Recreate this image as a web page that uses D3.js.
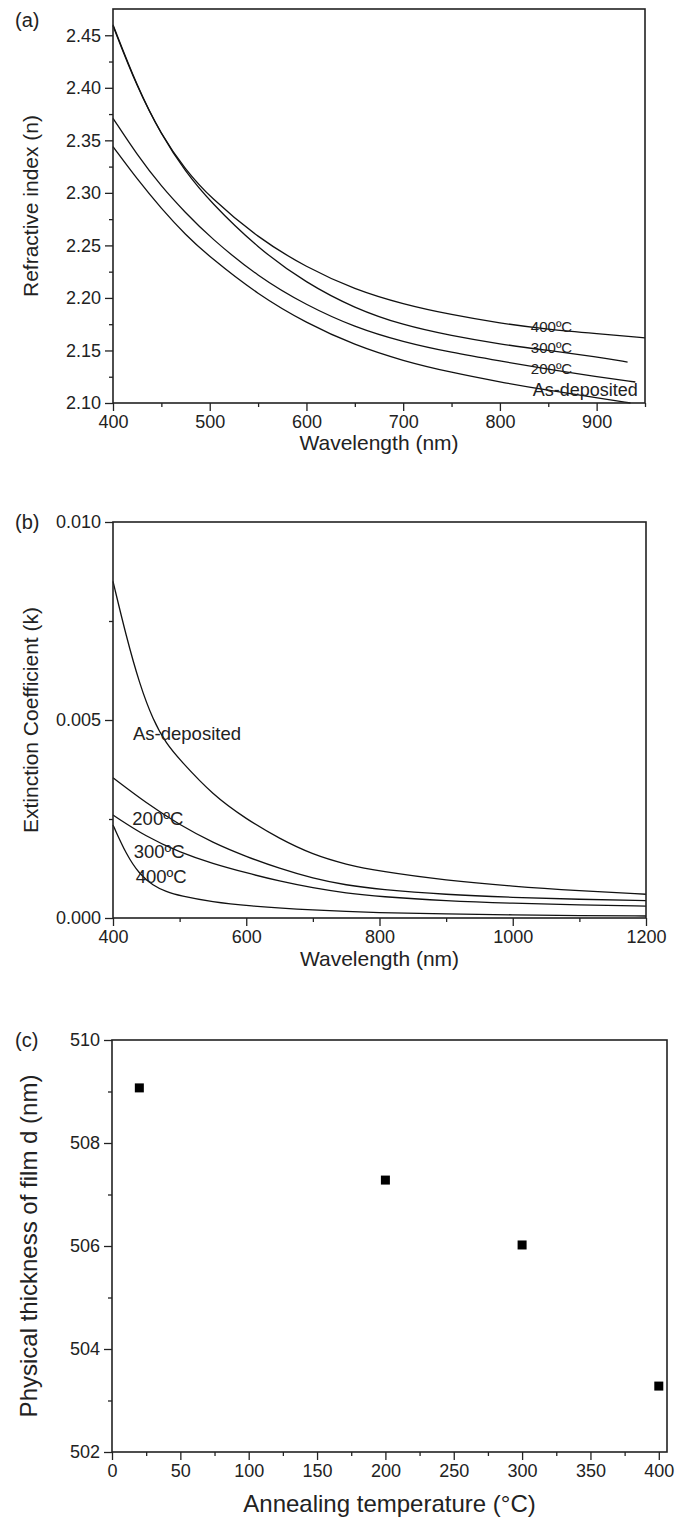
<!DOCTYPE html>
<html><head><meta charset="utf-8">
<script src="https://cdn.jsdelivr.net/npm/d3@7"></script>
<style>body{margin:0;background:#fff}svg{display:block;font-family:"Liberation Sans",Arial,sans-serif}</style>
</head><body><svg id="chart" width="692" height="1520"></svg>
<script>
// ---------- Panel (a): refractive index n vs wavelength ----------
const nAsDeposited = [[400,2.344],[425,2.313],[450,2.285],[475,2.260],[500,2.239],[550,2.203],[600,2.176],[650,2.155],[700,2.140],[750,2.129],[800,2.120],[850,2.112],[900,2.105],[935,2.100]];
const n200C = [[400,2.371],[425,2.336],[450,2.306],[475,2.281],[500,2.258],[550,2.220],[600,2.193],[650,2.172],[700,2.158],[750,2.148],[800,2.140],[850,2.132],[900,2.125],[940,2.120]];
const n300C = [[400,2.460],[425,2.401],[450,2.355],[475,2.320],[500,2.292],[550,2.247],[600,2.214],[650,2.190],[700,2.174],[750,2.164],[800,2.156],[850,2.150],[900,2.144],[932,2.139]];
const n400C = [[400,2.459],[425,2.400],[450,2.355],[475,2.322],[500,2.296],[550,2.257],[600,2.229],[650,2.208],[700,2.194],[750,2.184],[800,2.176],[850,2.170],[900,2.166],[950,2.162]];
const aSeriesLabels = ["400ºC","300ºC","200ºC","As-deposited"];
const aXTicks = [400,500,600,700,800,900];
const aYTicks = [2.10,2.15,2.20,2.25,2.30,2.35,2.40,2.45];

// ---------- Panel (b): extinction coefficient k vs wavelength ----------
const kAsDeposited = [[400,0.0085],[420,0.0071],[440,0.0059],[460,0.0050],[480,0.0044],[500,0.0040],[550,0.0031],[600,0.0025],[650,0.0020],[700,0.0016],[750,0.00135],[800,0.00118],[900,0.00095],[1000,0.0008],[1100,0.00069],[1200,0.0006]];
const k200C = [[400,0.00354],[450,0.0029],[500,0.00235],[550,0.0019],[600,0.00155],[650,0.00125],[700,0.00100],[750,0.00083],[800,0.00072],[900,0.00059],[1000,0.00052],[1100,0.00047],[1200,0.00044]];
const k300C = [[400,0.0026],[450,0.00205],[500,0.00166],[550,0.00137],[600,0.00114],[650,0.00093],[700,0.00076],[750,0.00063],[800,0.00054],[900,0.00043],[1000,0.00037],[1100,0.00033],[1200,0.0003]];
const k400C = [[400,0.00235],[420,0.0016],[440,0.0011],[460,0.00082],[480,0.00066],[500,0.00056],[550,0.0004],[600,0.00031],[700,0.0002],[800,0.00013],[900,0.0001],[1000,0.00008],[1100,0.00006],[1200,0.00005]];
const bSeriesLabels = ["As-deposited","200ºC","300ºC","400ºC"];
const bXTicks = [400,600,800,1000,1200];
const bYTicks = [0.000,0.005,0.010];

// ---------- Panel (c): thickness vs annealing temperature ----------
const annealTemp = [20,200,300,400];
const thickness = [509.07,507.28,506.02,503.28];
const cXTicks = [0,50,100,150,200,250,300,350,400];
const cYTicks = [502,504,506,508,510];

const svg = d3.select("#chart");
const INK = "#222";

function drawFrame(g, x, y, o) {
  const [x0,x1] = x.range(), [y1,y0] = y.range();
  g.append("g").attr("transform",`translate(0,${y1})`)
    .call(d3.axisBottom(x).tickValues(o.xMinor).tickSize(4).tickFormat(""));
  g.append("g").attr("transform",`translate(${x0},0)`)
    .call(d3.axisLeft(y).tickValues(o.yMinor).tickSize(4).tickFormat(""));
  g.append("g").attr("class","xa").attr("transform",`translate(0,${y1})`)
    .call(d3.axisBottom(x).tickValues(o.xTicks).tickSize(8).tickPadding(4).tickFormat(o.xFmt));
  g.append("g").attr("class","ya").attr("transform",`translate(${x0},0)`)
    .call(d3.axisLeft(y).tickValues(o.yTicks).tickSize(8).tickPadding(4).tickFormat(o.yFmt));
  g.selectAll(".domain").remove();
  g.selectAll(".tick line").attr("stroke",INK).attr("stroke-width",1.3);
  g.selectAll(".tick text").attr("fill",INK).style("font-size","18px").style("font-family","'Liberation Sans',Arial,sans-serif");
  g.append("rect").attr("x",x0).attr("y",y0).attr("width",x1-x0).attr("height",y1-y0)
    .attr("fill","none").attr("stroke",INK).attr("stroke-width",1.6);
  g.append("text").attr("x",(x0+x1)/2).attr("y",o.xTitleY).attr("text-anchor","middle")
    .attr("fill",INK).style("font-size",o.titleSize+"px").text(o.xTitle);
  g.append("text").attr("transform",`translate(${o.yTitleX},${(y0+y1)/2}) rotate(-90)`)
    .attr("text-anchor","middle").attr("dominant-baseline","central")
    .attr("fill",INK).style("font-size",o.titleSize+"px").text(o.yTitle);
  g.append("text").attr("x",15).attr("y",o.tagY).attr("dominant-baseline","central")
    .attr("fill",INK).style("font-size","20px").text(o.tag);
}

// ---------- Panel (a) ----------
{
  const x = d3.scaleLinear().domain([400,950]).range([113,645]);
  const y = d3.scaleLinear().domain([2.10,2.475]).range([403,9]);
  const g = svg.append("g");
  const line = d3.line().x(d=>x(d[0])).y(d=>y(d[1])).curve(d3.curveBasis);
  [nAsDeposited,n200C,n300C,n400C].forEach(s=>{
    g.append("path").datum(s).attr("d",line).attr("fill","none").attr("stroke","#111").attr("stroke-width",1.3);
  });
  drawFrame(g,x,y,{
    xTicks:aXTicks, xMinor:d3.range(450,951,100), yTicks:aYTicks, yMinor:d3.range(2.125,2.47,0.05),
    xFmt:d3.format("d"), yFmt:d3.format(".2f"),
    xTitle:"Wavelength (nm)", yTitle:"Refractive index (n)", titleSize:21,
    xTitleY:450, yTitleX:30, tag:"(a)", tagY:20
  });
  const labX = [832,832,832,834], labY=[2.168,2.148,2.128,2.107], labSize=[15,15,15,18];
  aSeriesLabels.forEach((t,i)=>{
    g.append("text").attr("x",x(labX[i])).attr("y",y(labY[i])).attr("fill",INK)
      .style("font-size",labSize[i]+"px").text(t);
  });
}

// ---------- Panel (b) ----------
{
  const x = d3.scaleLinear().domain([400,1200]).range([113,646]);
  const y = d3.scaleLinear().domain([0,0.010]).range([918,522]);
  const g = svg.append("g");
  const line = d3.line().x(d=>x(d[0])).y(d=>y(d[1])).curve(d3.curveBasis);
  [kAsDeposited,k200C,k300C,k400C].forEach(s=>{
    g.append("path").datum(s).attr("d",line).attr("fill","none").attr("stroke","#111").attr("stroke-width",1.3);
  });
  drawFrame(g,x,y,{
    xTicks:bXTicks, xMinor:d3.range(500,1200,200), yTicks:bYTicks, yMinor:[0.0025,0.0075],
    xFmt:d3.format("d"), yFmt:d3.format(".3f"),
    xTitle:"Wavelength (nm)", yTitle:"Extinction Coefficient (k)", titleSize:21,
    xTitleY:966, yTitleX:30, tag:"(b)", tagY:522
  });
  const labX=[430,429,431,434], labY=[0.0045,0.00235,0.00152,0.00088];
  bSeriesLabels.forEach((t,i)=>{
    g.append("text").attr("x",x(labX[i])).attr("y",y(labY[i])).attr("fill",INK)
      .style("font-size","18.5px").text(t);
  });
}

// ---------- Panel (c) ----------
{
  const x = d3.scaleLinear().domain([0,406]).range([112,667]);
  const y = d3.scaleLinear().domain([502,510]).range([1452,1040]);
  const g = svg.append("g");
  g.selectAll("rect.pt").data(annealTemp).enter().append("rect").attr("class","pt")
    .attr("x",(d)=>x(d)-4.5).attr("y",(d,i)=>y(thickness[i])-4.5)
    .attr("width",9).attr("height",9).attr("fill","#000");
  drawFrame(g,x,y,{
    xTicks:cXTicks, xMinor:d3.range(25,406,50), yTicks:cYTicks, yMinor:[503,505,507,509],
    xFmt:d3.format("d"), yFmt:d3.format("d"),
    xTitle:"Annealing temperature (°C)", yTitle:"Physical thickness of film d (nm)", titleSize:24,
    xTitleY:1512, yTitleX:28, tag:"(c)", tagY:1040
  });
}
</script></body></html>
